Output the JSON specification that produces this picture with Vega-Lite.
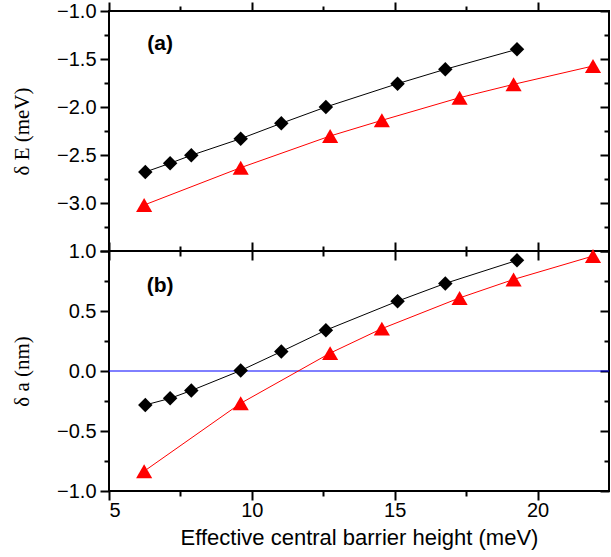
{
  "$schema": "https://vega.github.io/schema/vega-lite/v6.json",
  "autosize": {"type": "pad"},
  "padding": {"left": 10, "top": 0, "right": 0, "bottom": 2},
  "background": "white",
  "spacing": 0,
  "bounds": "flush",
  "config": {
    "view": {"stroke": "black", "strokeWidth": 2},
    "axis": {
      "domain": false,
      "grid": false,
      "ticks": true,
      "zindex": 2,
      "tickColor": "#000000",
      "tickOpacity": 1,
      "tickWidth": 2,
      "labelFont": "Liberation Sans",
      "labelFontSize": 20,
      "labelColor": "black",
      "titleColor": "black",
      "titleFontWeight": "normal"
    },
    "concat": {"spacing": 0}
  },
  "datasets": {
    "energy": [
      {"x": 6.27, "y": -2.677, "s": "black"},
      {"x": 7.14, "y": -2.586, "s": "black"},
      {"x": 7.88, "y": -2.503, "s": "black"},
      {"x": 9.61, "y": -2.33, "s": "black"},
      {"x": 11.03, "y": -2.17, "s": "black"},
      {"x": 12.59, "y": -2.0, "s": "black"},
      {"x": 15.1, "y": -1.757, "s": "black"},
      {"x": 16.77, "y": -1.607, "s": "black"},
      {"x": 19.28, "y": -1.399, "s": "black"},
      {"x": 6.23, "y": -3.021, "s": "red"},
      {"x": 9.61, "y": -2.632, "s": "red"},
      {"x": 12.74, "y": -2.302, "s": "red"},
      {"x": 14.55, "y": -2.139, "s": "red"},
      {"x": 17.27, "y": -1.903, "s": "red"},
      {"x": 19.16, "y": -1.764, "s": "red"},
      {"x": 21.94, "y": -1.573, "s": "red"}
    ],
    "size": [
      {"x": 6.27, "y": -0.283, "s": "black"},
      {"x": 7.14, "y": -0.228, "s": "black"},
      {"x": 7.88, "y": -0.163, "s": "black"},
      {"x": 9.61, "y": 0.004, "s": "black"},
      {"x": 11.03, "y": 0.162, "s": "black"},
      {"x": 12.59, "y": 0.34, "s": "black"},
      {"x": 15.1, "y": 0.582, "s": "black"},
      {"x": 16.77, "y": 0.73, "s": "black"},
      {"x": 19.28, "y": 0.922, "s": "black"},
      {"x": 6.23, "y": -0.835, "s": "red"},
      {"x": 9.61, "y": -0.269, "s": "red"},
      {"x": 12.74, "y": 0.149, "s": "red"},
      {"x": 14.55, "y": 0.353, "s": "red"},
      {"x": 17.27, "y": 0.609, "s": "red"},
      {"x": 19.16, "y": 0.763, "s": "red"},
      {"x": 21.94, "y": 0.958, "s": "red"}
    ]
  },
  "vconcat": [
    {
      "width": 500,
      "height": 240,
      "resolve": {"axis": {"x": "independent", "y": "independent"}},
      "layer": [
        {
          "data": {"name": "energy"},
          "mark": {"type": "line", "strokeWidth": 1},
          "encoding": {
            "x": {"field": "x", "type": "quantitative", "scale": {"domain": [5, 22.5], "nice": false},
              "axis": {"orient": "bottom", "title": null, "labels": false, "tickSize": 9, "values": [5, 10, 15, 20]}},
            "y": {"field": "y", "type": "quantitative", "scale": {"domain": [-3.5, -1.0], "nice": false, "zero": false},
              "axis": {"orient": "left", "title": "δ E (meV)", "titleFont": "Liberation Serif", "titleFontSize": 21, "titlePadding": 24,
                "values": [-3.5, -3.0, -2.5, -2.0, -1.5, -1.0], "tickSize": 9,
                "format": ".1f", "labelPadding": 4,
                "labelExpr": "datum.value > -3.4 ? datum.label : ''"}},
            "color": {"field": "s", "type": "nominal", "scale": {"domain": ["black", "red"], "range": ["#000000", "#ff0000"]}, "legend": null},
            "detail": {"field": "s"}
          }
        },
        {
          "data": {"name": "energy"},
          "transform": [{"filter": "datum.s == 'black'"}],
          "mark": {"type": "point", "filled": true, "opacity": 1, "shape": "diamond", "size": 210, "color": "#000000"},
          "encoding": {
            "x": {"field": "x", "type": "quantitative",
              "axis": {"orient": "bottom", "title": null, "labels": false, "tickSize": 5, "values": [7.5, 12.5, 17.5]}},
            "y": {"field": "y", "type": "quantitative",
              "axis": {"orient": "left", "title": null, "labels": false, "tickSize": 5, "values": [-3.25, -2.75, -2.25, -1.75, -1.25]}}
          }
        },
        {
          "data": {"name": "energy"},
          "transform": [{"filter": "datum.s == 'red'"}],
          "mark": {"type": "point", "filled": true, "opacity": 1, "shape": "triangle-up", "size": 260, "color": "#ff0000"},
          "encoding": {
            "x": {"field": "x", "type": "quantitative",
              "axis": {"orient": "top", "title": null, "labels": false, "tickSize": 9, "values": [5, 10, 15, 20]}},
            "y": {"field": "y", "type": "quantitative",
              "axis": {"orient": "right", "title": null, "labels": false, "offset": -9, "tickSize": 9, "values": [-3.5, -3.0, -2.5, -2.0, -1.5, -1.0]}}
          }
        },
        {
          "data": {"values": [{"x": 6.79, "y": -1.347, "t": "(a)"}]},
          "mark": {"type": "text", "font": "Liberation Sans", "fontSize": 21, "fontWeight": "bold", "align": "center", "baseline": "middle", "color": "black"},
          "encoding": {
            "x": {"field": "x", "type": "quantitative",
              "axis": {"orient": "top", "title": null, "labels": false, "tickSize": 5, "values": [7.5, 12.5, 17.5]}},
            "y": {"field": "y", "type": "quantitative",
              "axis": {"orient": "right", "title": null, "labels": false, "offset": -5, "tickSize": 5, "values": [-3.25, -2.75, -2.25, -1.75, -1.25]}},
            "text": {"field": "t"}
          }
        }
      ]
    },
    {
      "width": 500,
      "height": 240,
      "resolve": {"axis": {"x": "independent", "y": "independent"}},
      "layer": [
        {
          "data": {"values": [{"z": 0}]},
          "mark": {"type": "rule", "color": "#0000ff", "strokeWidth": 1},
          "encoding": {
            "y": {"field": "z", "type": "quantitative", "axis": null}
          }
        },
        {
          "data": {"name": "size"},
          "mark": {"type": "line", "strokeWidth": 1},
          "encoding": {
            "x": {"field": "x", "type": "quantitative", "scale": {"domain": [5, 22.5], "nice": false},
              "axis": {"orient": "bottom", "title": "Effective central barrier height (meV)", "titleFont": "Liberation Sans", "titleFontSize": 22, "titlePadding": 7,
                "values": [5, 10, 15, 20], "labelPadding": 0, "tickSize": 9}},
            "y": {"field": "y", "type": "quantitative", "scale": {"domain": [-1.0, 1.0], "nice": false},
              "axis": {"orient": "left", "title": "δ a (nm)", "titleFont": "Liberation Serif", "titleFontSize": 21, "titlePadding": 24,
                "values": [-1.0, -0.5, 0, 0.5, 1.0], "tickSize": 9,
                "format": ".1f", "labelPadding": 4}},
            "color": {"field": "s", "type": "nominal", "scale": {"domain": ["black", "red"], "range": ["#000000", "#ff0000"]}, "legend": null},
            "detail": {"field": "s"}
          }
        },
        {
          "data": {"name": "size"},
          "transform": [{"filter": "datum.s == 'black'"}],
          "mark": {"type": "point", "filled": true, "opacity": 1, "shape": "diamond", "size": 210, "color": "#000000"},
          "encoding": {
            "x": {"field": "x", "type": "quantitative",
              "axis": {"orient": "bottom", "title": null, "labels": false, "tickSize": 5, "values": [7.5, 12.5, 17.5]}},
            "y": {"field": "y", "type": "quantitative",
              "axis": {"orient": "left", "title": null, "labels": false, "tickSize": 5, "values": [-0.75, -0.25, 0.25, 0.75]}}
          }
        },
        {
          "data": {"name": "size"},
          "transform": [{"filter": "datum.s == 'red'"}],
          "mark": {"type": "point", "filled": true, "opacity": 1, "shape": "triangle-up", "size": 260, "color": "#ff0000"},
          "encoding": {
            "x": {"field": "x", "type": "quantitative",
              "axis": {"orient": "top", "title": null, "labels": false, "tickSize": 9, "values": [5, 10, 15, 20]}},
            "y": {"field": "y", "type": "quantitative",
              "axis": {"orient": "right", "title": null, "labels": false, "offset": -9, "tickSize": 9, "values": [-1.0, -0.5, 0, 0.5, 1.0]}}
          }
        },
        {
          "data": {"values": [{"x": 6.79, "y": 0.708, "t": "(b)"}]},
          "mark": {"type": "text", "font": "Liberation Sans", "fontSize": 21, "fontWeight": "bold", "align": "center", "baseline": "middle", "color": "black"},
          "encoding": {
            "x": {"field": "x", "type": "quantitative",
              "axis": {"orient": "top", "title": null, "labels": false, "tickSize": 5, "values": [7.5, 12.5, 17.5]}},
            "y": {"field": "y", "type": "quantitative",
              "axis": {"orient": "right", "title": null, "labels": false, "offset": -5, "tickSize": 5, "values": [-0.75, -0.25, 0.25, 0.75]}},
            "text": {"field": "t"}
          }
        }
      ]
    }
  ]
}
